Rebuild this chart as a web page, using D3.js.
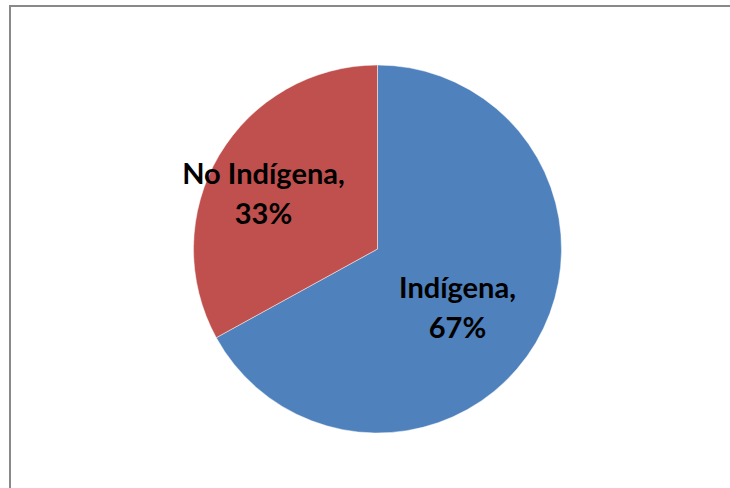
<!DOCTYPE html>
<html>
<head>
<meta charset="utf-8">
<script src="https://cdn.jsdelivr.net/npm/d3@7"></script>
<style>
  body { margin: 0; background: #fff; }
  .label { font-family: Lato, "Open Sans", sans-serif; font-weight: bold; font-size: 29px; fill: #000; }
</style>
</head>
<body>
<div id="chart"></div>
<script>
const categories = ["Indígena", "No Indígena"];
const values = [67, 33];
const colors = ["#4F81BD", "#C0504D"];

const w = 730;
const h = 488;
const cx = 377.5;
const cy = 249;
const radius = 184;
// how far out each label sits (fraction of radius), "best fit" style
const labelRadius = [0.505, 0.72];

const svg = d3.select("#chart")
  .append("svg")
  .attr("width", w)
  .attr("height", h);

// chart frame (right and bottom edges fall outside the picture)
svg.append("rect")
  .attr("x", 10)
  .attr("y", 6)
  .attr("width", 760)
  .attr("height", 520)
  .attr("fill", "none")
  .attr("stroke", "#898989")
  .attr("stroke-width", 2);

const data = categories.map((c, i) => ({ name: c, value: values[i], color: colors[i] }));

const pie = d3.pie().sort(null).value(d => d.value);
const arc = d3.arc().innerRadius(0).outerRadius(radius);

const g = svg.append("g").attr("transform", `translate(${cx}, ${cy})`);

const arcs = pie(data);

g.selectAll("path")
  .data(arcs)
  .enter()
  .append("path")
  .attr("d", arc)
  .attr("fill", d => d.data.color)
  .attr("stroke", "#ffffff")
  .attr("stroke-opacity", 0.6)
  .attr("stroke-width", 0.8);

// data labels: name on first line, percent on second
const total = d3.sum(values);

const labels = g.selectAll("text")
  .data(arcs)
  .enter()
  .append("text")
  .attr("class", "label")
  .attr("text-anchor", "middle")
  .attr("transform", (d, i) => {
    const r = radius * labelRadius[i];
    const [x, y] = d3.arc().innerRadius(r).outerRadius(r).centroid(d);
    return `translate(${x}, ${y + 6})`;
  });

labels.append("tspan")
  .attr("x", 0)
  .attr("dy", -4)
  .text(d => d.data.name + ",");

labels.append("tspan")
  .attr("x", 0)
  .attr("dy", 40)
  .text(d => Math.round(d.data.value / total * 100) + "%");
</script>
</body>
</html>
